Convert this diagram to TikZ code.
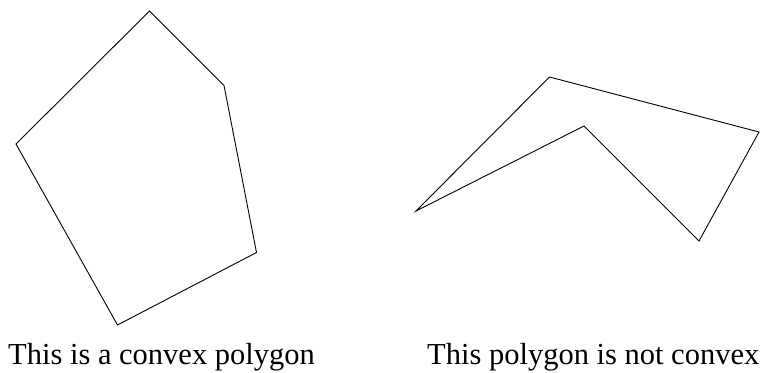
\documentclass[tikz,border=0pt]{standalone}
\usepackage{fontspec}
\setmainfont{Liberation Serif}
\begin{document}
\begin{tikzpicture}[x=1pt,y=-1pt,
  poly/.style={draw=black,line width=0.9pt,line join=miter},
  caption/.style={anchor=base west,inner sep=0pt,font=\fontsize{30.5}{36}\selectfont}]
\useasboundingbox (0,0) rectangle (768,372);
% convex polygon
\coordinate (a1) at (149.5,11);
\coordinate (a2) at (224,85.5);
\coordinate (a3) at (256.5,252.5);
\coordinate (a4) at (117.5,325);
\coordinate (a5) at (16,144);
\draw[poly] (a1) -- (a2) -- (a3) -- (a4) -- (a5) -- cycle;
% non-convex polygon
\coordinate (b1) at (549.5,77);
\coordinate (b2) at (759,132);
\coordinate (b3) at (699,241);
\coordinate (b4) at (584,126);
\coordinate (b5) at (416,211);
\draw[poly] (b1) -- (b2) -- (b3) -- (b4) -- (b5) -- cycle;
\node[caption] (t1) at (8,364) {This is a convex polygon};
\node[caption] (t2) at (427,364) {This polygon is not convex};
\end{tikzpicture}
\end{document}
